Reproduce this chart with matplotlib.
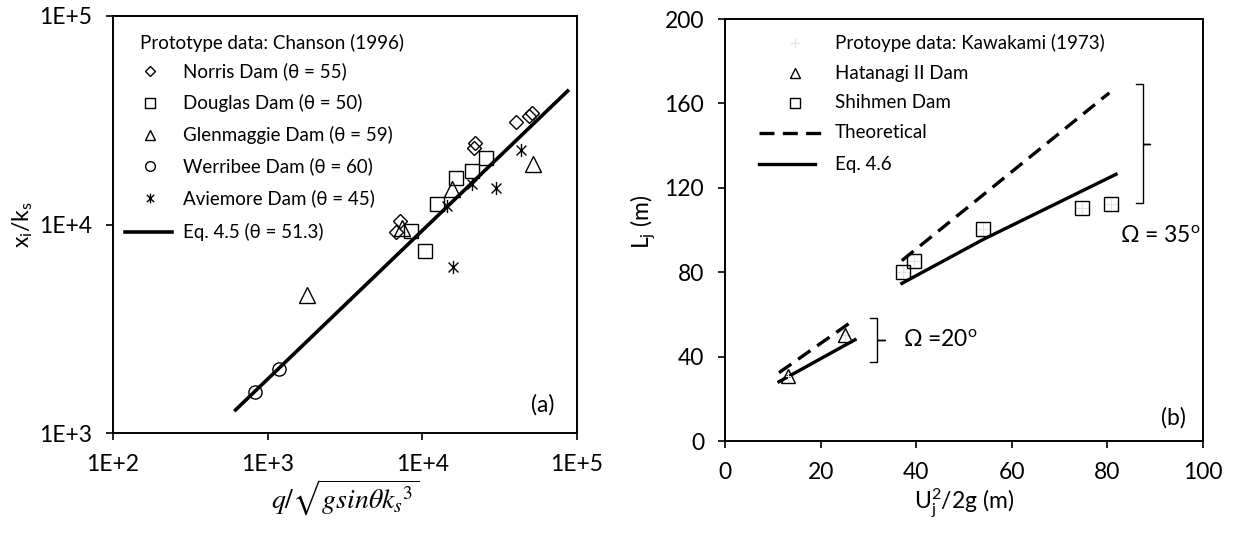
import math
import matplotlib
matplotlib.use("Agg")
import matplotlib.pyplot as plt
from matplotlib.path import Path
from matplotlib.ticker import FixedLocator, FuncFormatter, NullLocator

plt.rcParams['font.family'] = ['Lato', 'DejaVu Sans']
plt.rcParams['mathtext.fontset'] = 'custom'
plt.rcParams['mathtext.rm'] = 'Lato'
plt.rcParams['mathtext.it'] = 'Lato:italic'

# ---- panel (a): Chanson (1996) prototype data ----
norris_x = [6760, 7170, 21700, 21900, 40300, 49200, 50900]
norris_y = [9240, 10430, 23200, 24500, 30900, 33200, 34100]
douglas_x = [8410, 10400, 12400, 16500, 20900, 25800]
douglas_y = [9330, 7460, 12500, 16800, 18100, 20800]
glen_x = [1790, 7360, 15500, 52200]
glen_y = [4590, 9590, 14800, 19500]
werribee_x = [828, 1190]
werribee_y = [1580, 2030]
aviemore_x = [14400, 20900, 29900, 43300, 15900]
aviemore_y = [12200, 15600, 14900, 22800, 6280]
eq45_x = [620, 87000]
eq45_y = [1290, 43700]

# ---- panel (b): Kawakami (1973) prototype data ----
hatanagi_x = [13.1, 25.0]
hatanagi_y = [30.7, 50.1]
shihmen_x = [37.3, 39.5, 53.9, 74.6, 80.7]
shihmen_y = [80.2, 85.3, 100.3, 110.3, 112.3]
theo20_x = [11.3, 27.2]
theo20_y = [32.4, 57.7]
eq46_20_x = [11.3, 27.2]
eq46_20_y = [28.1, 48.0]
theo35_x = [37.0, 80.4]
theo35_y = [85.5, 165.0]
eq46_35_x = [37.0, 54.0, 81.8]
eq46_35_y = [74.7, 95.5, 126.4]

star = Path([(0, -1), (0, 1), (-0.75, -0.75), (0.75, 0.75), (-0.75, 0.75), (0.75, -0.75)],
            [Path.MOVETO, Path.LINETO, Path.MOVETO, Path.LINETO, Path.MOVETO, Path.LINETO])

fs_tick = 16.5
fs_leg = 13.5
dash = (4.5, 2.5)

fig = plt.figure(figsize=(12.36, 5.33), dpi=100)
ax1 = fig.add_axes([113/1236, 100/533, 464/1236, 417/533])
ax2 = fig.add_axes([725/1236, 92/533, 478/1236, 422/533])

for ax in (ax1, ax2):
    for s in ax.spines.values():
        s.set_linewidth(1.4)
    ax.tick_params(which='major', direction='out', length=5, width=1.2,
                   labelsize=fs_tick, pad=10)

mk = dict(linestyle='none', color='black', mfc='none', mew=1.0)

# ---- (a) ----
ax1.set_xscale('log')
ax1.set_yscale('log')
ax1.plot(eq45_x, eq45_y, color='black', lw=2.6, zorder=2)
ax1.plot(norris_x, norris_y, marker='D', ms=7, **mk)
ax1.plot(douglas_x, douglas_y, marker='s', ms=9.5, **mk)
ax1.plot(glen_x, glen_y, marker='^', ms=11, **mk)
ax1.plot(werribee_x, werribee_y, marker='o', ms=9.5, **mk)
ax1.plot(aviemore_x, aviemore_y, marker=star, ms=9.5, **mk)
ax1.set_xlim(1e2, 1e5)
ax1.set_ylim(1e3, 1e5)
ax1.xaxis.set_major_locator(FixedLocator([1e2, 1e3, 1e4, 1e5]))
ax1.yaxis.set_major_locator(FixedLocator([1e3, 1e4, 1e5]))
ax1.xaxis.set_minor_locator(NullLocator())
ax1.yaxis.set_minor_locator(NullLocator())
efmt = FuncFormatter(lambda v, p: "1E+%d" % round(math.log10(v)))
ax1.xaxis.set_major_formatter(efmt)
ax1.yaxis.set_major_formatter(efmt)

ax1.set_xlabel(r"$q/\sqrt{gsin\theta k_s{}^{3}}$", fontsize=20, math_fontfamily='stix')
ax1.xaxis.label.set_va('center')
ax1.xaxis.set_label_coords(0.5, -0.155)
ax1.set_ylabel(r"x$_\mathrm{i}$/k$_\mathrm{s}$", fontsize=fs_tick)
ax1.yaxis.label.set_va('center')
ax1.yaxis.set_label_coords(-0.194, 0.5)

tr = ax1.transAxes
ax1.text(0.058, 0.935, "Prototype data: Chanson (1996)", transform=tr, fontsize=fs_leg, va='center')
rows_a = [("Norris Dam (θ = 55)", 'D', 5.5), ("Douglas Dam (θ = 50)", 's', 7),
          ("Glenmaggie Dam (θ = 59)", '^', 7.5), ("Werribee Dam (θ = 60)", 'o', 7),
          ("Aviemore Dam (θ = 45)", star, 7)]
ys_a = [0.868, 0.791, 0.715, 0.640, 0.564]
for (lab, m, s), y in zip(rows_a, ys_a):
    ax1.plot([0.0797], [y], marker=m, ms=s, transform=tr, clip_on=False, **mk)
    ax1.text(0.151, y, lab, transform=tr, fontsize=fs_leg, va='center')
ax1.plot([0.026, 0.127], [0.482, 0.482], color='black', lw=2.6, transform=tr)
ax1.text(0.151, 0.482, "Eq. 4.5 (θ = 51.3)", transform=tr, fontsize=fs_leg, va='center')
ax1.text(0.925, 0.067, "(a)", transform=tr, fontsize=fs_tick, ha='center', va='center')

# ---- (b) ----
ax2.plot(theo20_x, theo20_y, color='black', lw=2.4, dashes=dash)
ax2.plot(eq46_20_x, eq46_20_y, color='black', lw=2.4)
ax2.plot(theo35_x, theo35_y, color='black', lw=2.4, dashes=dash)
ax2.plot(eq46_35_x, eq46_35_y, color='black', lw=2.4)
ax2.plot(hatanagi_x + shihmen_x, hatanagi_y + shihmen_y, linestyle='none',
         marker='+', ms=9, color='#e4e4e4', mew=0.8)
ax2.plot(hatanagi_x, hatanagi_y, marker='^', ms=10.5, **mk)
ax2.plot(shihmen_x, shihmen_y, marker='s', ms=9.5, **mk)
ax2.set_xlim(0, 100)
ax2.set_ylim(0, 200)
ax2.set_xticks(range(0, 101, 20))
ax2.set_yticks(range(0, 201, 40))
ax2.set_xlabel(r"U$_\mathrm{j}^\mathrm{2}$/2g (m)", fontsize=fs_tick)
ax2.xaxis.label.set_va('center')
ax2.xaxis.set_label_coords(0.5, -0.147)
ax2.set_ylabel(r"L$_\mathrm{j}$ (m)", fontsize=fs_tick)
ax2.yaxis.label.set_va('center')
ax2.yaxis.set_label_coords(-0.1715, 0.52)

# braces
ax2.plot([86.0, 87.4, 87.4, 88.9, 87.4, 87.4, 86.0],
         [169.3, 169.3, 140.9, 140.9, 140.9, 112.8, 112.8], color='black', lw=1.0)
ax2.plot([30.4, 31.8, 31.8, 33.5, 31.8, 31.8, 30.4],
         [58.2, 58.2, 47.7, 47.7, 47.7, 37.3, 37.3], color='black', lw=1.0)
ax2.text(82.6, 97.6, r"Ω = 35$^\mathrm{o}$", fontsize=fs_tick, va='center')
ax2.text(37.3, 47.9, r"Ω =20$^\mathrm{o}$", fontsize=fs_tick, va='center')
ax2.text(0.939, 0.054, "(b)", transform=ax2.transAxes, fontsize=fs_tick, ha='center', va='center')

tr2 = ax2.transAxes
ax2.plot([0.1456], [0.944], marker='+', ms=7, color='#e4e4e4', transform=tr2)
ax2.text(0.230, 0.944, "Protoype data: Kawakami (1973)", transform=tr2, fontsize=fs_leg, va='center')
ax2.plot([0.1456], [0.871], marker='^', ms=7.5, transform=tr2, **mk)
ax2.text(0.230, 0.871, "Hatanagi II Dam", transform=tr2, fontsize=fs_leg, va='center')
ax2.plot([0.1456], [0.802], marker='s', ms=7, transform=tr2, **mk)
ax2.text(0.230, 0.802, "Shihmen Dam", transform=tr2, fontsize=fs_leg, va='center')
ax2.plot([0.071, 0.215], [0.730, 0.730], color='black', lw=2.4, dashes=dash, transform=tr2)
ax2.text(0.230, 0.730, "Theoretical", transform=tr2, fontsize=fs_leg, va='center')
ax2.plot([0.071, 0.188], [0.656, 0.656], color='black', lw=2.4, transform=tr2)
ax2.text(0.230, 0.656, "Eq. 4.6", transform=tr2, fontsize=fs_leg, va='center')

fig.savefig("out.png", dpi=100)
